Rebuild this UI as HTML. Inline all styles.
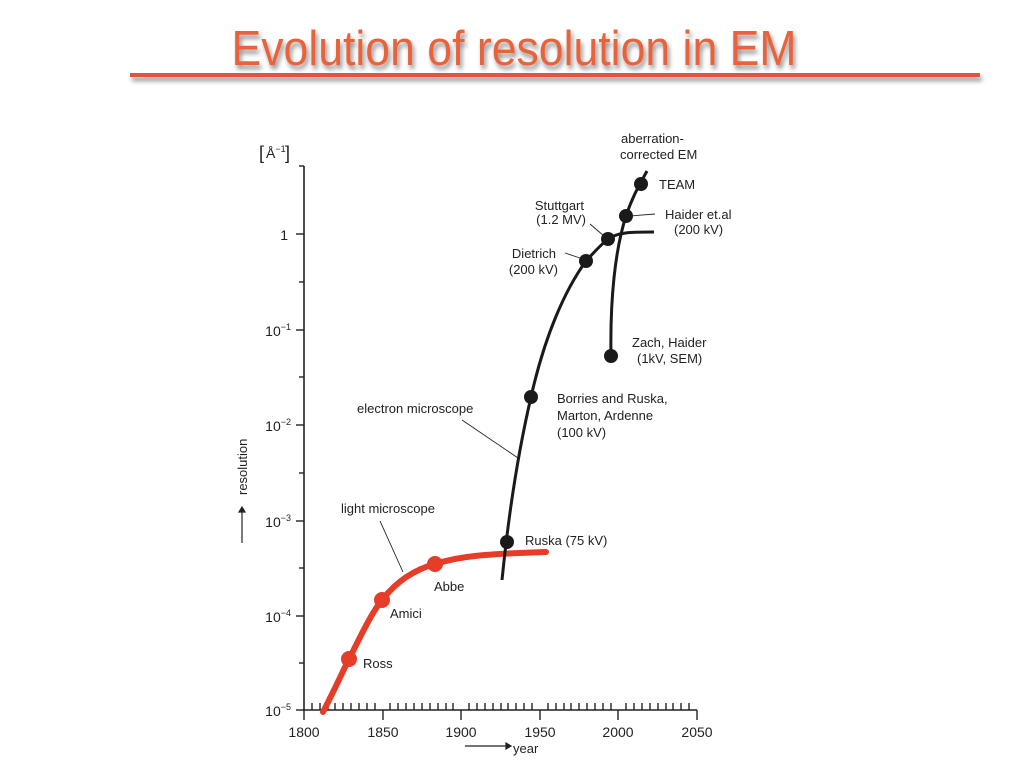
<!DOCTYPE html>
<html><head><meta charset="utf-8"><style>
html,body{margin:0;padding:0;background:#fff;width:1024px;height:768px;overflow:hidden}
svg{display:block}
</style></head><body>
<svg width="1024" height="768" viewBox="0 0 1024 768" xmlns="http://www.w3.org/2000/svg" font-family="Liberation Sans, sans-serif">
<defs>
<filter id="sh" x="-5%" y="-50%" width="110%" height="250%"><feGaussianBlur in="SourceAlpha" stdDeviation="2.5"/><feOffset dx="2" dy="4"/><feComponentTransfer><feFuncA type="linear" slope="0.45"/></feComponentTransfer><feMerge><feMergeNode/><feMergeNode in="SourceGraphic"/></feMerge></filter>
</defs>
<g filter="url(#sh)">
<text x="514" y="65" text-anchor="middle" font-size="49" fill="#E8633A" font-family="Liberation Sans Narrow, Liberation Sans, sans-serif" textLength="565" lengthAdjust="spacingAndGlyphs">Evolution of resolution in EM</text>
<rect x="130" y="73" width="850" height="4" fill="#E0573A"/>
</g>
<g stroke="#222" stroke-width="1.6" fill="none">
<line x1="304" y1="166" x2="304" y2="711"/>
<line x1="303" y1="710" x2="697" y2="710"/>
</g>
<g stroke="#222" stroke-width="1.4">
<line x1="296" y1="710" x2="304" y2="710"/><line x1="296" y1="616" x2="304" y2="616"/>
<line x1="296" y1="521" x2="304" y2="521"/><line x1="296" y1="425" x2="304" y2="425"/>
<line x1="296" y1="330" x2="304" y2="330"/><line x1="296" y1="234" x2="304" y2="234"/>
<line x1="299" y1="663" x2="304" y2="663"/><line x1="299" y1="568" x2="304" y2="568"/>
<line x1="299" y1="473" x2="304" y2="473"/><line x1="299" y1="377" x2="304" y2="377"/>
<line x1="299" y1="282" x2="304" y2="282"/><line x1="299" y1="166" x2="304" y2="166"/>
<line x1="304" y1="710" x2="304" y2="720"/><line x1="383" y1="710" x2="383" y2="720"/>
<line x1="461" y1="710" x2="461" y2="720"/><line x1="540" y1="710" x2="540" y2="720"/>
<line x1="618" y1="710" x2="618" y2="720"/><line x1="697" y1="710" x2="697" y2="720"/>
<line x1="312" y1="703" x2="312" y2="710"/><line x1="320" y1="703" x2="320" y2="710"/><line x1="328" y1="703" x2="328" y2="710"/><line x1="335" y1="703" x2="335" y2="710"/>
<line x1="343" y1="703" x2="343" y2="710"/><line x1="351" y1="703" x2="351" y2="710"/><line x1="359" y1="703" x2="359" y2="710"/><line x1="367" y1="703" x2="367" y2="710"/><line x1="375" y1="703" x2="375" y2="710"/>
<line x1="390" y1="703" x2="390" y2="710"/><line x1="398" y1="703" x2="398" y2="710"/><line x1="406" y1="703" x2="406" y2="710"/><line x1="414" y1="703" x2="414" y2="710"/>
<line x1="422" y1="703" x2="422" y2="710"/><line x1="430" y1="703" x2="430" y2="710"/><line x1="438" y1="703" x2="438" y2="710"/><line x1="446" y1="703" x2="446" y2="710"/><line x1="453" y1="703" x2="453" y2="710"/>
<line x1="469" y1="703" x2="469" y2="710"/><line x1="477" y1="703" x2="477" y2="710"/><line x1="485" y1="703" x2="485" y2="710"/><line x1="493" y1="703" x2="493" y2="710"/>
<line x1="501" y1="703" x2="501" y2="710"/><line x1="508" y1="703" x2="508" y2="710"/><line x1="516" y1="703" x2="516" y2="710"/><line x1="524" y1="703" x2="524" y2="710"/><line x1="532" y1="703" x2="532" y2="710"/>
<line x1="548" y1="703" x2="548" y2="710"/><line x1="556" y1="703" x2="556" y2="710"/><line x1="564" y1="703" x2="564" y2="710"/><line x1="571" y1="703" x2="571" y2="710"/>
<line x1="579" y1="703" x2="579" y2="710"/><line x1="587" y1="703" x2="587" y2="710"/><line x1="595" y1="703" x2="595" y2="710"/><line x1="603" y1="703" x2="603" y2="710"/><line x1="611" y1="703" x2="611" y2="710"/>
<line x1="626" y1="703" x2="626" y2="710"/><line x1="634" y1="703" x2="634" y2="710"/><line x1="642" y1="703" x2="642" y2="710"/><line x1="650" y1="703" x2="650" y2="710"/>
<line x1="658" y1="703" x2="658" y2="710"/><line x1="666" y1="703" x2="666" y2="710"/><line x1="673" y1="703" x2="673" y2="710"/><line x1="681" y1="703" x2="681" y2="710"/><line x1="689" y1="703" x2="689" y2="710"/>
</g>
<g font-size="14" fill="#222">
<text x="304" y="737" text-anchor="middle">1800</text><text x="383" y="737" text-anchor="middle">1850</text>
<text x="461" y="737" text-anchor="middle">1900</text><text x="540" y="737" text-anchor="middle">1950</text>
<text x="618" y="737" text-anchor="middle">2000</text><text x="697" y="737" text-anchor="middle">2050</text>
<text x="513" y="753" font-size="13">year</text>
<g text-anchor="end">
<text x="291" y="716">10<tspan font-size="9" dy="-6">−5</tspan></text>
<text x="291" y="622">10<tspan font-size="9" dy="-6">−4</tspan></text>
<text x="291" y="527">10<tspan font-size="9" dy="-6">−3</tspan></text>
<text x="291" y="431">10<tspan font-size="9" dy="-6">−2</tspan></text>
<text x="291" y="336">10<tspan font-size="9" dy="-6">−1</tspan></text>
<text x="288" y="240">1</text>
</g>
<text x="259" y="159" font-size="18">[</text><text x="266" y="158">Å<tspan font-size="9" dy="-6">−1</tspan></text><text x="285" y="159" font-size="18">]</text>
<text transform="translate(247,495) rotate(-90)" font-size="13">resolution</text>
</g>
<g stroke="#222" stroke-width="1.2" fill="#222">
<line x1="465" y1="746" x2="506" y2="746"/><path d="M506,743 L511,746 L506,749Z"/>
<line x1="242" y1="543" x2="242" y2="512"/><path d="M239,512 L242,507 L245,512Z"/>
</g>
<g stroke="#222" stroke-width="0.9" fill="none">
<line x1="380" y1="521" x2="403" y2="572"/>
<line x1="462" y1="420" x2="518" y2="458"/>
<line x1="565" y1="253" x2="580" y2="258"/>
<line x1="590" y1="224" x2="604" y2="236"/>
<line x1="630" y1="216" x2="655" y2="214"/>
</g>
<path d="M323,712 C333,693 342,673 349,659 C359,640 370,615 382,600 C396,582 413,570 435,564 C460,556 485,554 546,552" stroke="#E63C28" stroke-width="6" fill="none" stroke-linecap="round"/>
<g fill="#E63C28"><circle cx="349" cy="659" r="8"/><circle cx="382" cy="600" r="8"/><circle cx="435" cy="564" r="8"/></g>
<path d="M502,580 C506,540 514,470 531,397 C545,335 565,290 586,261 C596,250 603,243 608,239 C618,232 632,232 654,232" stroke="#1a1a1a" stroke-width="3" fill="none"/>
<path d="M611,356 C610,300 615,250 626,216 C633,195 640,184 647,171" stroke="#1a1a1a" stroke-width="3" fill="none"/>
<g fill="#1a1a1a">
<circle cx="507" cy="542" r="7"/><circle cx="531" cy="397" r="7"/><circle cx="586" cy="261" r="7"/>
<circle cx="608" cy="239" r="7"/><circle cx="626" cy="216" r="7"/><circle cx="641" cy="184" r="7"/><circle cx="611" cy="356" r="7"/>
</g>
<g font-size="13" fill="#222">
<text x="363" y="668">Ross</text><text x="390" y="618">Amici</text><text x="434" y="591">Abbe</text>
<text x="341" y="513">light microscope</text>
<text x="525" y="545">Ruska (75 kV)</text>
<text x="357" y="413">electron microscope</text>
<text x="557" y="403">Borries and Ruska,</text>
<text x="557" y="420">Marton, Ardenne</text>
<text x="557" y="437">(100 kV)</text>
<text x="556" y="258" text-anchor="end">Dietrich</text>
<text x="558" y="274" text-anchor="end">(200 kV)</text>
<text x="584" y="210" text-anchor="end">Stuttgart</text>
<text x="586" y="224" text-anchor="end">(1.2 MV)</text>
<text x="621" y="143">aberration-</text>
<text x="620" y="159">corrected EM</text>
<text x="659" y="189">TEAM</text>
<text x="665" y="219">Haider et.al</text>
<text x="674" y="234">(200 kV)</text>
<text x="632" y="347">Zach, Haider</text>
<text x="637" y="363">(1kV, SEM)</text>
</g>
</svg>
</body></html>
